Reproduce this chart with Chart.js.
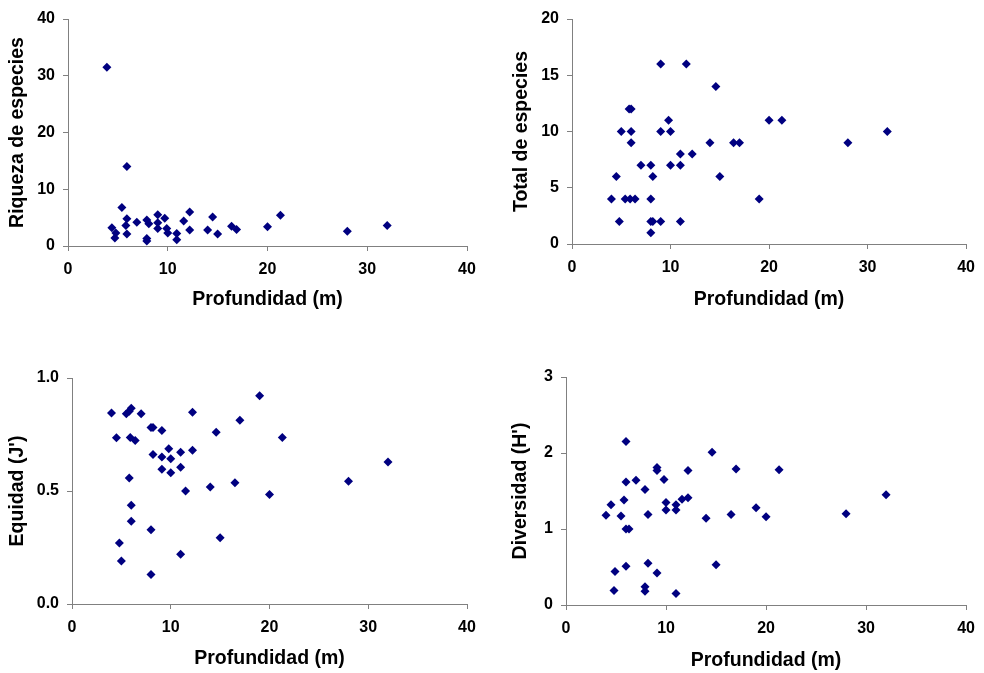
<!DOCTYPE html>
<html>
<head>
<meta charset="utf-8">
<script src="https://cdn.jsdelivr.net/npm/chart.js@4.4.1/dist/chart.umd.min.js"></script>
<style>
  body { margin: 0; background: #fff; }
  #wrap { position: relative; width: 984px; height: 673px; }
  canvas { position: absolute; }
</style>
</head>
<body>
<div id="wrap">
  <canvas id="riquezaChart" width="492" height="336" style="left:0;top:0"></canvas>
  <canvas id="totalChart" width="492" height="336" style="left:492px;top:0"></canvas>
  <canvas id="equidadChart" width="492" height="337" style="left:0;top:336px"></canvas>
  <canvas id="diversidadChart" width="492" height="337" style="left:492px;top:336px"></canvas>
</div>
<script>
// profundidad (m) y riqueza de especies
const profRiqueza = [3.9, 5.9, 5.4, 4.4, 4.8, 4.7, 5.9, 5.8, 5.9, 6.9, 7.9, 8.1, 7.9, 7.9, 9.0, 9.0, 9.0,
  9.7, 9.9, 10.0, 10.9, 10.9, 11.6, 12.2, 12.2, 14.0, 14.5, 15.0, 16.4, 16.9, 20.0, 21.3, 28.0, 32.0];
const riqueza = [31.5, 14.0, 6.8, 3.2, 2.3, 1.4, 4.8, 3.6, 2.1, 4.2, 4.6, 3.9, 1.3, 0.9, 5.5, 4.1, 3.1,
  4.9, 3.1, 2.3, 2.2, 1.1, 4.4, 6.0, 2.8, 2.8, 5.1, 2.1, 3.5, 2.9, 3.4, 5.4, 2.6, 3.6];

// profundidad (m) y total de especies
const profTotal = [9.0, 11.6, 14.6, 5.8, 6.0, 9.8, 20.0, 21.3, 5.0, 6.0, 9.0, 10.0, 32.0, 6.0, 14.0, 16.4,
  17.0, 28.0, 11.0, 12.2, 7.0, 8.0, 10.0, 11.0, 4.5, 8.2, 15.0, 4.0, 5.4, 5.9, 6.4, 8.0, 19.0, 4.8, 8.0,
  8.2, 9.0, 11.0, 8.0];
const totalEspecies = [16, 16, 14, 12, 12, 11, 11, 11, 10, 10, 10, 10, 10, 9, 9, 9, 9, 9, 8, 8, 7, 7, 7, 7,
  6, 6, 6, 4, 4, 4, 4, 4, 4, 2, 2, 2, 2, 2, 1];

// profundidad (m) y equidad J'
const profEquidad = [4.0, 5.5, 5.8, 6.0, 7.0, 12.2, 8.0, 8.2, 9.1, 4.5, 5.9, 6.4, 9.8, 8.2, 9.1, 10.0, 11.0,
  12.2, 9.1, 10.0, 11.0, 5.8, 11.5, 6.0, 6.0, 8.0, 4.8, 5.0, 11.0, 8.0, 14.0, 14.6, 15.0, 16.5, 17.0, 19.0,
  20.0, 21.3, 28.0, 32.0];
const equidad = [0.845, 0.842, 0.853, 0.866, 0.842, 0.849, 0.781, 0.781, 0.768, 0.736, 0.737, 0.724, 0.687,
  0.661, 0.650, 0.643, 0.672, 0.680, 0.596, 0.581, 0.605, 0.557, 0.500, 0.437, 0.366, 0.329, 0.270, 0.190,
  0.220, 0.131, 0.518, 0.760, 0.293, 0.537, 0.813, 0.922, 0.484, 0.737, 0.543, 0.628];

// profundidad (m) y diversidad H'
const profDiversidad = [6.0, 9.1, 9.1, 12.2, 6.0, 7.0, 9.8, 7.9, 5.8, 4.5, 10.0, 11.6, 12.2, 10.0, 11.0, 11.0,
  4.0, 5.5, 8.2, 6.0, 6.3, 4.9, 6.0, 8.2, 9.1, 4.8, 7.9, 7.9, 11.0, 14.0, 14.6, 15.0, 16.5, 17.0, 19.0, 20.0,
  21.3, 28.0, 32.0];
const diversidad = [2.15, 1.81, 1.77, 1.77, 1.62, 1.64, 1.65, 1.52, 1.38, 1.32, 1.35, 1.39, 1.41, 1.25, 1.32,
  1.25, 1.18, 1.17, 1.19, 1.0, 1.0, 0.44, 0.51, 0.55, 0.42, 0.19, 0.24, 0.18, 0.15, 1.14, 2.01, 0.53, 1.19,
  1.79, 1.28, 1.16, 1.78, 1.20, 1.45];

const xTitle = 'Profundidad (m)';

const FONT = '"Liberation Sans", Arial, sans-serif';
const TICK_SIZE = 16;
const TITLE_SIZE = 19.5;
const AXIS_COLOR = '#808080';
const MARK_COLOR = '#000080';

// box: canvas size, plot area edges and title centres, all in canvas pixels
function makePanel(id, xs, ys, yMax, yStep, yTitle, yDecimals, box) {
  const points = xs.map((x, i) => ({ x: x, y: ys[i] }));
  const lh = TITLE_SIZE * 1.2;
  const grid = { drawOnChartArea: false, drawTicks: true, tickLength: 5, color: AXIS_COLOR, lineWidth: 1 };
  const border = { display: true, color: AXIS_COLOR, width: 1 };
  const tickFont = { family: FONT, size: TICK_SIZE, weight: 'bold' };
  const titleFont = { family: FONT, size: TITLE_SIZE, weight: 'bold' };

  return new Chart(document.getElementById(id), {
    type: 'scatter',
    data: {
      datasets: [{
        data: points,
        pointStyle: 'rectRot',
        pointRadius: 4.5,
        pointHoverRadius: 4.5,
        backgroundColor: MARK_COLOR,
        borderColor: MARK_COLOR,
        borderWidth: 0
      }]
    },
    options: {
      responsive: false,
      animation: false,
      layout: { padding: { left: 0, top: box.top, right: box.w - box.right, bottom: 0 } },
      plugins: { legend: { display: false }, tooltip: { enabled: false } },
      scales: {
        x: {
          type: 'linear',
          min: 0,
          max: 40,
          grid: grid,
          border: border,
          ticks: { stepSize: 10, color: '#000', font: tickFont, padding: 9, maxRotation: 0 },
          title: {
            display: true, text: xTitle, color: '#000', font: titleFont,
            padding: { top: 0, bottom: (box.h - box.xTitleY) - lh / 2 }
          },
          afterFit: function (scale) { scale.height = box.h - box.bottom; }
        },
        y: {
          type: 'linear',
          min: 0,
          max: yMax,
          grid: grid,
          border: border,
          ticks: {
            stepSize: yStep, color: '#000', font: tickFont, padding: 8,
            callback: function (v) { return v.toFixed(yDecimals); }
          },
          title: {
            display: true, text: yTitle, color: '#000', font: titleFont,
            padding: { top: box.yTitleX - lh / 2, bottom: 0 }
          },
          afterFit: function (scale) { scale.width = box.left; }
        }
      }
    }
  });
}

makePanel('riquezaChart', profRiqueza, riqueza, 40, 10, 'Riqueza de especies', 0,
  { w: 492, h: 336, left: 68, top: 19, right: 467, bottom: 246, yTitleX: 17.5, xTitleY: 300 });
makePanel('totalChart', profTotal, totalEspecies, 20, 5, 'Total de especies', 0,
  { w: 492, h: 336, left: 80, top: 19, right: 481, bottom: 244, yTitleX: 29.7, xTitleY: 300 });
makePanel('equidadChart', profEquidad, equidad, 1, 0.5, "Equidad (J')", 1,
  { w: 492, h: 337, left: 72, top: 42, right: 467, bottom: 268, yTitleX: 17.5, xTitleY: 322.3 });
makePanel('diversidadChart', profDiversidad, diversidad, 3, 1, "Diversidad (H')", 0,
  { w: 492, h: 337, left: 74, top: 41, right: 479, bottom: 269, yTitleX: 28.2, xTitleY: 324.7 });
</script>
</body>
</html>
